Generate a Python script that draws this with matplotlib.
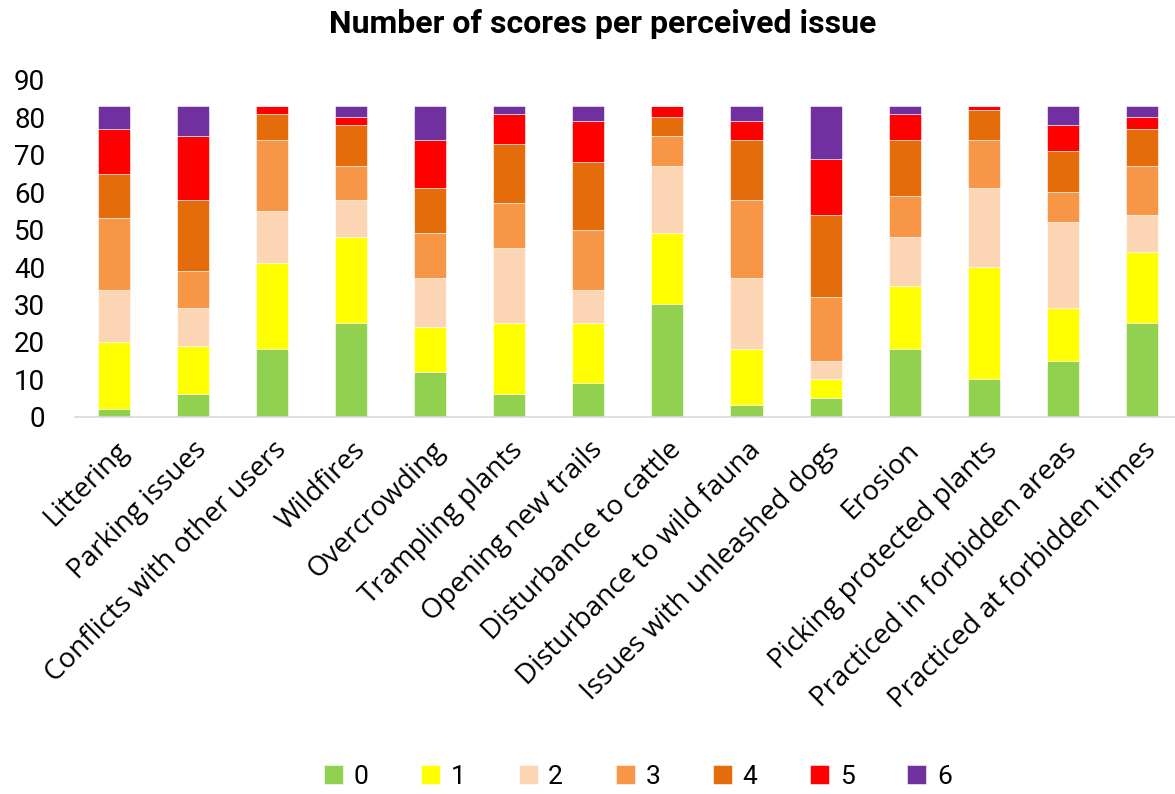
import numpy as np
import matplotlib.pyplot as plt

# data -----
issues = ["Littering", "Parking issues", "Conflicts with other users", "Wildfires",
          "Overcrowding", "Trampling plants", "Opening new trails",
          "Disturbance to cattle", "Disturbance to wild fauna",
          "Issues with unleashed dogs", "Erosion", "Picking protected plants",
          "Practiced in forbidden areas", "Practiced at forbidden times"]
score_labels = ["0", "1", "2", "3", "4", "5", "6"]

score_0 = [2, 6, 18, 25, 12, 6, 9, 30, 3, 5, 18, 10, 15, 25]
score_1 = [18, 13, 23, 23, 12, 19, 16, 19, 15, 5, 17, 30, 14, 19]
score_2 = [14, 10, 14, 10, 13, 20, 9, 18, 19, 5, 13, 21, 23, 10]
score_3 = [19, 10, 19, 9, 12, 12, 16, 8, 21, 17, 11, 13, 8, 13]
score_4 = [12, 19, 7, 11, 12, 16, 18, 5, 16, 22, 15, 8, 11, 10]
score_5 = [12, 17, 2, 2, 13, 8, 11, 3, 5, 15, 7, 1, 7, 3]
score_6 = [6, 8, 0, 3, 9, 2, 4, 0, 4, 14, 2, 0, 5, 3]

colors = ["#92D050", "#FFFF00", "#FCD5B5", "#F79646", "#E46C0A", "#FF0000", "#7030A0"]

# plot -----
fig = plt.figure(figsize=(11.75, 7.94), dpi=100)
ax = fig.add_axes([74.5 / 1175, 1 - 416.7 / 794, (1175 - 74.5) / 1175, (416.7 - 80) / 794])

x = np.arange(len(issues))
bottom = np.zeros(len(issues))
for label, values, color in zip(score_labels,
                                [score_0, score_1, score_2, score_3, score_4, score_5, score_6],
                                colors):
    ax.bar(x, values, bottom=bottom, width=0.405, color=color, label=label,
           edgecolor="white", linewidth=0.4)
    bottom += np.array(values)

ax.set_xlim(-0.5, 13.42)
ax.set_ylim(0, 90)
ax.set_yticks(range(0, 100, 10))
ax.tick_params(axis="y", length=0, labelsize=20, pad=21)
ax.tick_params(axis="x", length=0, pad=14)
for lbl in ax.get_yticklabels():
    lbl.set_family("Roboto")

ax.set_xticks(x)
ax.set_xticklabels(issues, rotation=45, ha="right", rotation_mode="anchor",
                   fontsize=20, family="Open Sans")

for side in ["top", "right", "left"]:
    ax.spines[side].set_visible(False)
ax.spines["bottom"].set_color("#D9D9D9")
ax.spines["bottom"].set_linewidth(1.2)

fig.text(0.513, 0.97, "Number of scores per perceived issue", ha="center", va="center",
         fontsize=23, fontweight="bold", family="Roboto")

fig.legend(loc="center", bbox_to_anchor=(0.543, 0.022), ncol=7, frameon=False,
           prop={"family": "Roboto", "size": 19}, handlelength=0.72, handleheight=0.72,
           handletextpad=0.4, columnspacing=2.0)

fig.savefig("out.png", dpi=100)
